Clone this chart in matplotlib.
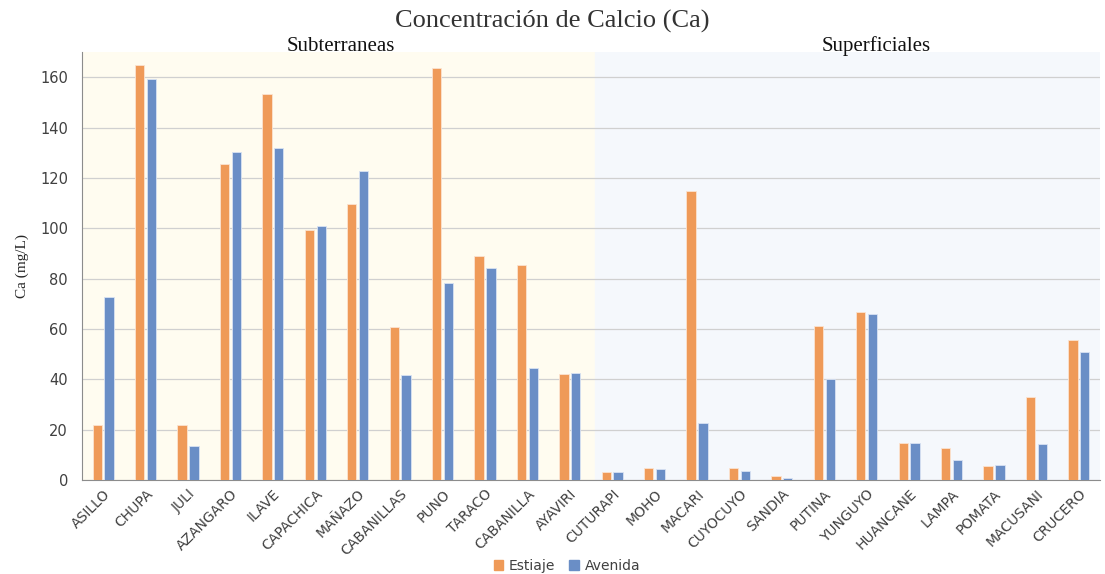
import numpy as np
import matplotlib
matplotlib.use("Agg")
import matplotlib.pyplot as plt
from matplotlib.patches import Patch

sites = ["ASILLO", "CHUPA", "JULI", "AZANGARO", "ILAVE", "CAPACHICA", "MAÑAZO",
         "CABANILLAS", "PUNO", "TARACO", "CABANILLA", "AYAVIRI", "CUTURAPI", "MOHO",
         "MACARI", "CUYOCUYO", "SANDIA", "PUTINA", "YUNGUYO", "HUANCANE", "LAMPA",
         "POMATA", "MACUSANI", "CRUCERO"]
estiaje = [22, 164.8, 21.7, 125.4, 153.2, 99.1, 109.5, 60.8, 163.6, 89, 85.5, 42.1,
           3.0, 4.8, 114.6, 4.8, 1.7, 61.1, 66.7, 14.8, 12.6, 5.7, 33, 55.8]
avenida = [72.5, 159.2, 13.3, 130.1, 131.7, 100.7, 122.6, 41.7, 78.2, 84.1, 44.3, 42.6,
           3.0, 4.4, 22.5, 3.4, 0.8, 40.2, 65.9, 14.8, 7.8, 6.1, 14.3, 50.8]
groups = ["Subterraneas", "Superficiales"]
n_sub = 12

C_EST = "#EF9A58"
C_AVE = "#6A8EC6"

fig = plt.figure(figsize=(11.05, 5.74), dpi=100)
ax = fig.add_axes([0.0742, 0.1638, 0.9213, 0.7456])

x = np.arange(len(sites))
ax.axvspan(-0.5, n_sub - 0.4, color="#FFFCF0", zorder=0)
ax.axvspan(n_sub - 0.4, len(sites) - 0.5, color="#F5F8FC", zorder=0)

w = 0.22
ax.bar(x - 0.14, estiaje, width=w, color=C_EST, edgecolor="#FBE3D0", linewidth=0.6, zorder=3)
ax.bar(x + 0.14, avenida, width=w, color=C_AVE, edgecolor="#D8E2F2", linewidth=0.6, zorder=3)

ax.set_xlim(-0.5, len(sites) - 0.5)
ax.set_ylim(0, 170)
ax.set_yticks(range(0, 161, 20))
ax.yaxis.grid(True, color="#D0D0D0", linewidth=0.9, zorder=1)
ax.set_axisbelow(True)

ax.set_xticks(x)
ax.set_xticklabels(sites, rotation=45, ha="right", rotation_mode="anchor",
                   fontsize=10, color="#404040", family="DejaVu Sans")
ax.tick_params(axis="y", labelsize=10.5, colors="#404040", length=0, pad=10)
ax.tick_params(axis="x", length=0, pad=5)

for s in ["top", "right"]:
    ax.spines[s].set_visible(False)
ax.spines["left"].set_color("#8C8C8C")
ax.spines["bottom"].set_color("#8C8C8C")

ax.set_ylabel("Ca (mg/L)", family="Liberation Serif", fontsize=11, color="#262626", labelpad=8)

fig.text(0.5, 0.962, "Concentración de Calcio (Ca)", ha="center", va="center",
         family="Liberation Serif", fontsize=19, color="#333333")
fig.text(0.308, 0.919, groups[0], ha="center", va="center",
         family="Liberation Serif", fontsize=15, color="#111111")
fig.text(0.793, 0.919, groups[1], ha="center", va="center",
         family="Liberation Serif", fontsize=15, color="#111111")

handles = [Patch(color=C_EST, label="Estiaje"), Patch(color=C_AVE, label="Avenida")]
fig.legend(handles=handles, loc="center", bbox_to_anchor=(0.513, 0.014), ncol=2,
           frameon=False, fontsize=10, handlelength=0.7, handleheight=0.7,
           handletextpad=0.4, columnspacing=1.0, labelcolor="#404040")

fig.savefig("out.png", dpi=100)
